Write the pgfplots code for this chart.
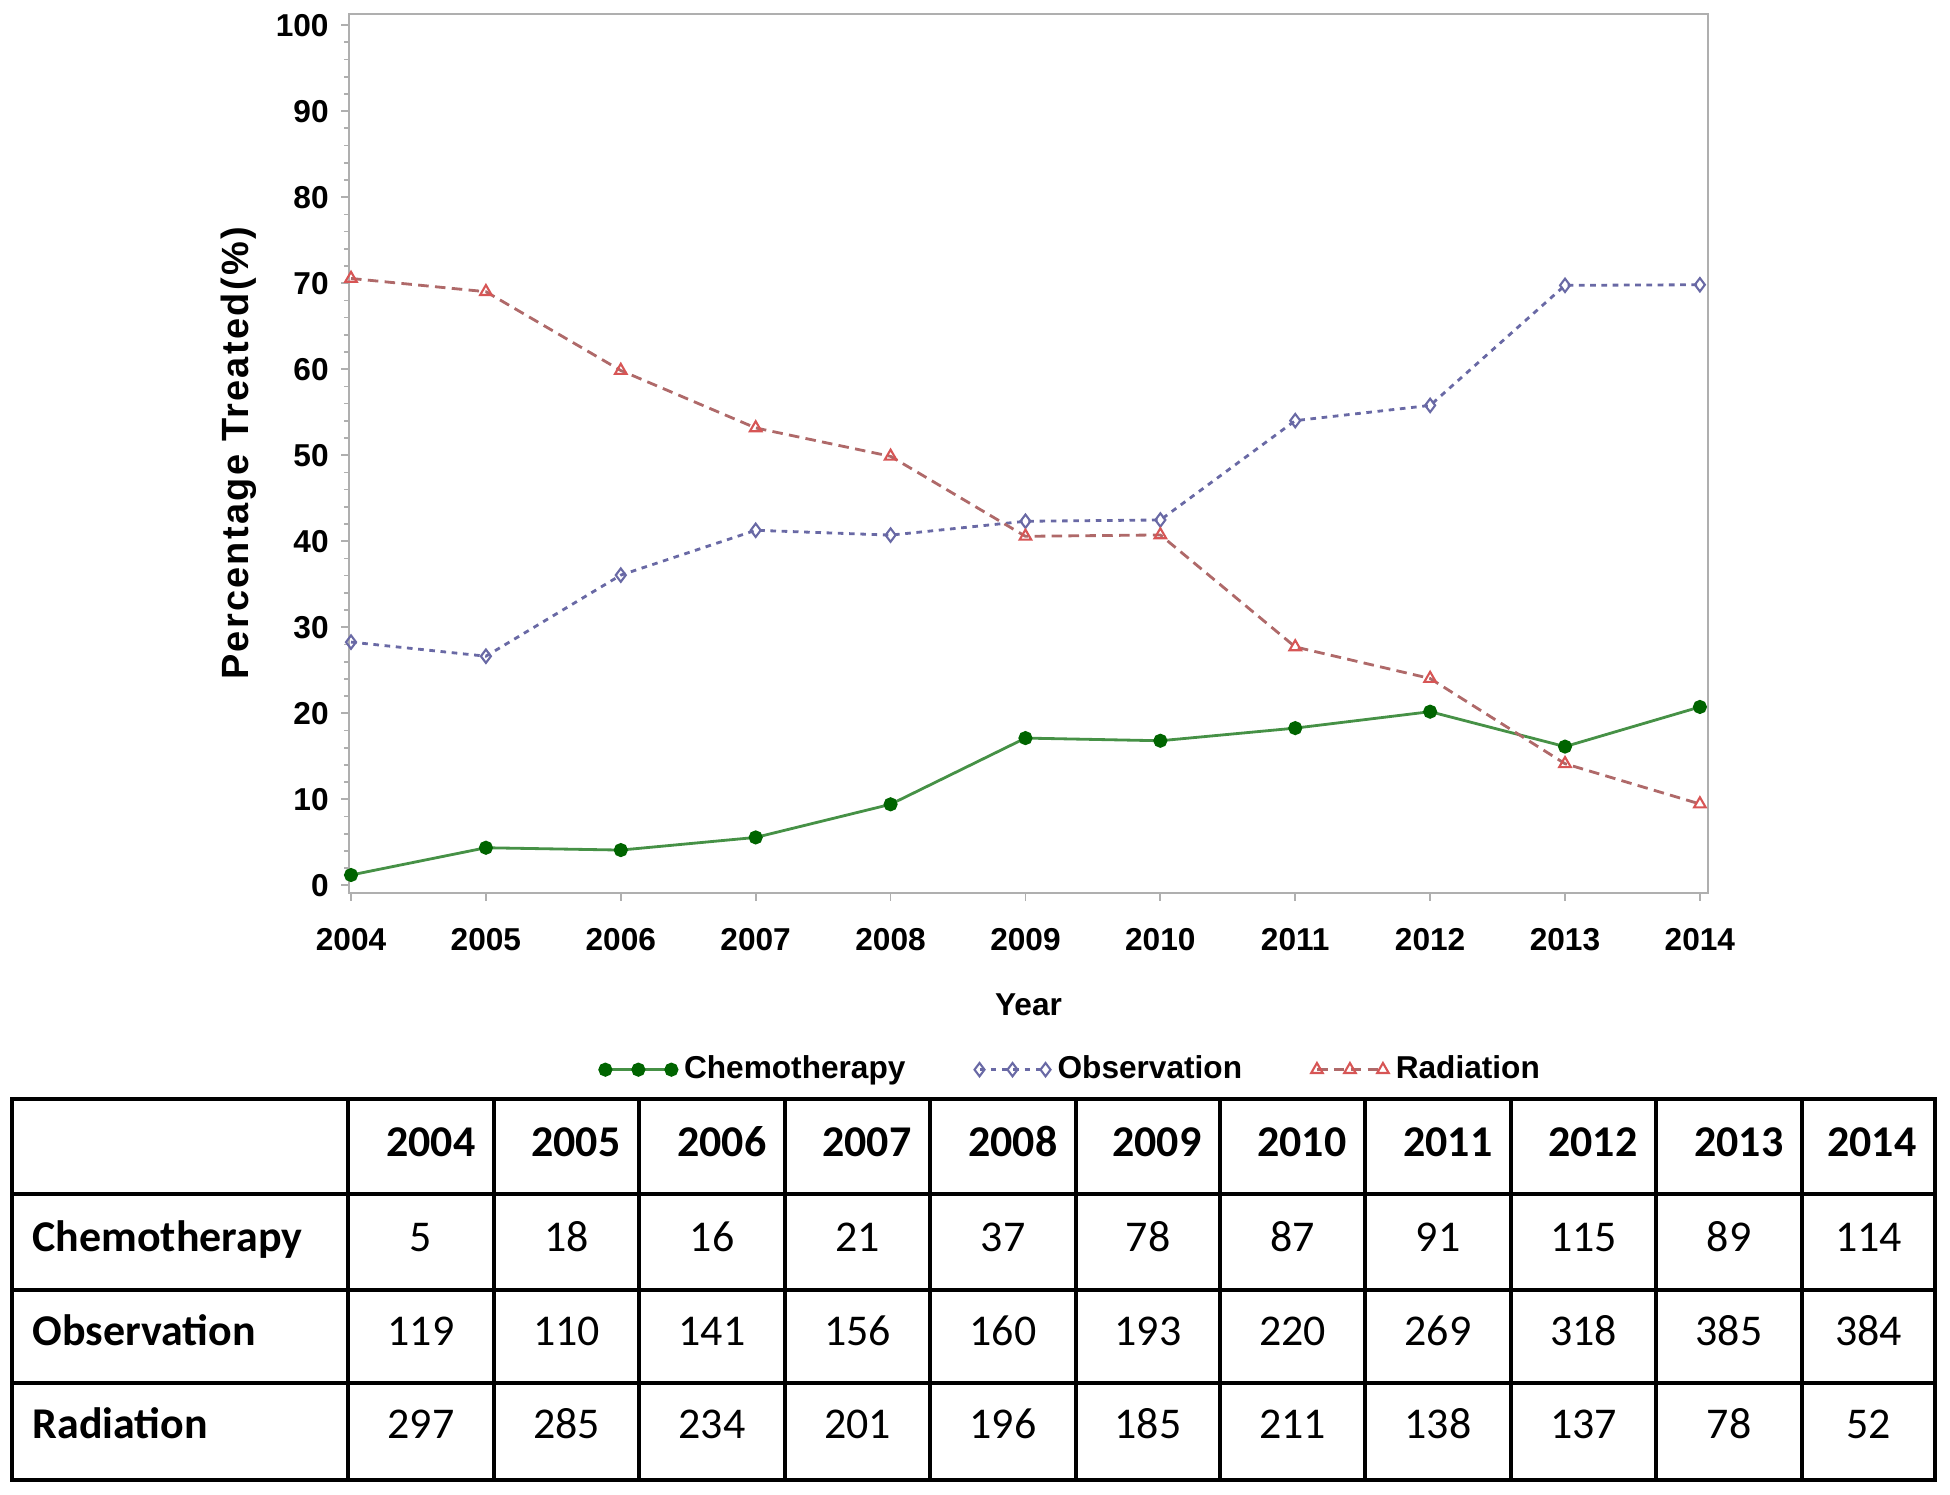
\documentclass[border=0pt]{standalone}
\usepackage{fontspec}
\setmainfont{Liberation Sans}
\newfontfamily\carlito{Carlito}
\newfontfamily\spaced[LetterSpace=6]{Liberation Sans}
\usepackage{pgfplots}
\pgfplotsset{compat=1.18}

\definecolor{chemoline}{RGB}{70,145,70}
\definecolor{chemomark}{RGB}{0,100,0}
\definecolor{obscol}{RGB}{105,105,165}
\definecolor{radline}{RGB}{175,105,105}
\definecolor{radmark}{RGB}{215,85,85}
\definecolor{axgray}{RGB}{175,175,175}

\begin{document}
\begin{tikzpicture}
\path[use as bounding box] (0,0) rectangle (195mm,149.5mm);
\begin{axis}[
  at={(34.9mm,60.2mm)}, anchor=south west,
  scale only axis, width=135.9mm, height=87.9mm,
  xmin=2003.985, xmax=2014.06, ymin=-0.9, ymax=101.3,
  xtick={2004,2005,...,2014}, ytick={0,10,...,100}, minor y tick num=4,
  xtick pos=left, ytick pos=left, tick align=outside,
  major tick length=0.8mm, minor tick length=0.5mm,
  axis line style={draw=axgray, line width=0.7pt},
  every tick/.style={draw=axgray, line width=0.5pt},
  /pgf/number format/1000 sep={},
  /pgf/number format/assume math mode=true,
  tick label style={font=\bfseries\fontsize{9}{10}\selectfont},
  x tick label style={yshift=-1.5mm},
  xlabel={Year}, ylabel={Percentage  Treated(\%)},
  xlabel style={at={(axis description cs:0.5,-0.127)}, anchor=center, font=\bfseries\fontsize{9}{10}\selectfont},
  ylabel style={at={(axis description cs:-0.081,0.5)}, anchor=center, font=\spaced\bfseries\fontsize{10.8}{12}\selectfont},
  legend columns=3,
  legend style={at={(axis description cs:0.184,-0.201)}, anchor=west, draw=none, fill=none,
    font=\bfseries\fontsize{9}{10}\selectfont, inner sep=0pt,
    /tikz/every even column/.append style={column sep=6.2mm}},
  legend image code/.code={\draw[mark repeat=1,mark phase=1,#1] plot coordinates {(0mm,0mm) (3.3mm,0mm) (6.6mm,0mm)};},
]
\addplot[color=chemoline, line width=0.8pt, mark=*, mark size=1.6pt,
  mark options={solid, fill=chemomark, draw=chemomark}]
  coordinates {(2004,1.19) (2005,4.36) (2006,4.09) (2007,5.56) (2008,9.41) (2009,17.11) (2010,16.80) (2011,18.27) (2012,20.18) (2013,16.12) (2014,20.73)};
\addlegendentry{Chemotherapy}
\addplot[color=obscol, line width=0.8pt, dash pattern=on 1.6pt off 1.6pt, mark=diamond, mark size=1.9pt,
  mark options={solid, draw=obscol, fill=white, line width=0.6pt}]
  coordinates {(2004,28.27) (2005,26.63) (2006,36.06) (2007,41.27) (2008,40.71) (2009,42.32) (2010,42.47) (2011,54.02) (2012,55.79) (2013,69.75) (2014,69.82)};
\addlegendentry{Observation}
\addplot[color=radline, line width=0.8pt, dash pattern=on 3pt off 1.8pt, mark=triangle, mark size=1.9pt,
  mark options={solid, draw=radmark, fill=white, line width=0.6pt}]
  coordinates {(2004,70.55) (2005,69.01) (2006,59.85) (2007,53.17) (2008,49.87) (2009,40.57) (2010,40.73) (2011,27.71) (2012,24.04) (2013,14.13) (2014,9.45)};
\addlegendentry{Radiation}
\end{axis}

% table
\begin{scope}[x=1mm,y=1mm,line width=0.9pt]
\draw (1.2,1.5) rectangle (193.5,39.6);
\foreach \yy in {30.1,20.5,11.2} {\draw (1.2,\yy) -- (193.5,\yy);}
\foreach \xx in {34.8,49.4,63.9,78.5,93.0,107.6,122.0,136.5,151.1,165.6,180.2} {\draw (\xx,1.5) -- (\xx,39.6);}
\node[anchor=mid west, inner sep=0pt, font=\carlito\bfseries\fontsize{12.5}{14}\selectfont] at (3.1,25.3) {Chemotherapy};
\node[anchor=mid west, inner sep=0pt, font=\carlito\bfseries\fontsize{12.5}{14}\selectfont] at (3.1,15.9) {Observation};
\node[anchor=mid west, inner sep=0pt, font=\carlito\bfseries\fontsize{12.5}{14}\selectfont] at (3.1,6.6) {Radiation};
\foreach \cx/\rx/\yr/\a/\b/\c in {42.1/49.4/2004/5/119/297, 56.65/63.9/2005/18/110/285, 71.2/78.5/2006/16/141/234, 85.75/93.0/2007/21/156/201, 100.3/107.6/2008/37/160/196, 114.8/122.0/2009/78/193/185, 129.25/136.5/2010/87/220/211, 143.8/151.1/2011/91/269/138, 158.35/165.6/2012/115/318/137, 172.9/180.2/2013/89/385/78, 186.85/193.5/2014/114/384/52} {
  \node[anchor=mid east, inner sep=0pt, font=\carlito\bfseries\fontsize{12.5}{14}\selectfont] at (\rx-1.7,34.8) {\yr};
  \node[anchor=mid, inner sep=0pt, font=\carlito\fontsize{12.5}{14}\selectfont] at (\cx,25.3) {\a};
  \node[anchor=mid, inner sep=0pt, font=\carlito\fontsize{12.5}{14}\selectfont] at (\cx,15.9) {\b};
  \node[anchor=mid, inner sep=0pt, font=\carlito\fontsize{12.5}{14}\selectfont] at (\cx,6.6) {\c};
}
\end{scope}
\end{tikzpicture}
\end{document}
